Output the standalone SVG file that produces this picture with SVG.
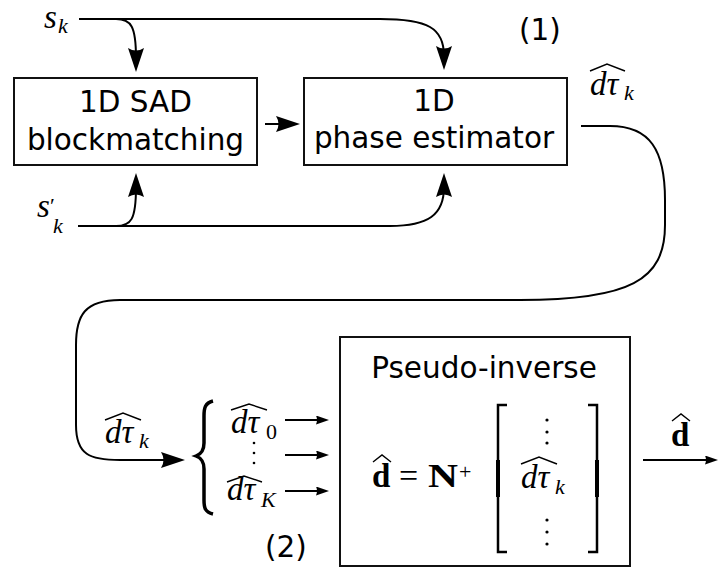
<svg xmlns="http://www.w3.org/2000/svg" width="718" height="568" viewBox="0 0 718 568">
<style>
.box{fill:#fff;stroke:#111;stroke-width:2}
.lbl{font-family:"DejaVu Sans",sans-serif;font-size:29.5px;fill:#000;text-anchor:middle}
.c{fill:none;stroke:#000;stroke-width:2}
.m{font-family:"Liberation Serif",serif;font-style:italic;font-size:33px;fill:#000}
.sub{font-family:"Liberation Serif",serif;font-style:italic;font-size:22px;fill:#000}
.up{font-family:"Liberation Serif",serif;font-size:22px;fill:#000}
.bf{font-family:"Liberation Serif",serif;font-weight:bold;font-size:33px;fill:#000}
.eq{font-family:"Liberation Serif",serif;font-size:34px;fill:#000}
.hat{fill:none;stroke:#000;stroke-width:1.4}
.dot{fill:#000}
</style>
<defs>
<marker id="big" markerUnits="userSpaceOnUse" markerWidth="26" markerHeight="18" refX="10" refY="8" orient="auto">
<path d="M0,0 L24,8 L0,16 Q5,8 0,0 z" fill="#000"/>
</marker>
<marker id="small" markerUnits="userSpaceOnUse" markerWidth="14" markerHeight="10" refX="6" refY="4.5" orient="auto">
<path d="M0,0 L13,4.5 L0,9 Q2,4.5 0,0 z" fill="#000"/>
</marker>
</defs>

<g id="connectors">
<path class="c" d="M79,19 H380 C428,19 444,28 444,56" marker-end="url(#big)"/>
<path class="c" d="M79,19 H116 C131,19 136,26 136,58" marker-end="url(#big)"/>
<path class="c" d="M78,226 H116 C131,226 136,220 136,187" marker-end="url(#big)"/>
<path class="c" d="M78,226 H390 C428,226 444,215 444,187" marker-end="url(#big)"/>
<path class="c" d="M265,124 H286" marker-end="url(#big)"/>
<path class="c" d="M581,126 H610 C650,126 665,150 665,200 V225 C665,280 630,300 520,300 H120 C85,300 76,315 76,345 V425 C76,455 90,460 120,460 H171" marker-end="url(#big)"/>
<path class="c" d="M285,420 H322" marker-end="url(#small)"/>
<path class="c" d="M285,455 H322" marker-end="url(#small)"/>
<path class="c" d="M285,491 H322" marker-end="url(#small)"/>
<path class="c" d="M643,460 H711" marker-end="url(#small)"/>
</g>

<g id="node-sad">
<rect class="box" x="14" y="78" width="243" height="87"/>
<text class="lbl" x="135.5" y="112">1D SAD</text>
<text class="lbl" x="135.5" y="150">blockmatching</text>
</g>

<g id="node-phase">
<rect class="box" x="304" y="78" width="263" height="87"/>
<text class="lbl" x="434" y="111">1D</text>
<text class="lbl" x="434" y="148">phase estimator</text>
</g>

<g id="node-pinv">
<rect class="box" x="340" y="337" width="290" height="229"/>
<text class="lbl" x="484" y="378">Pseudo-inverse</text>
<text class="bf" x="372" y="487">d</text>
<path class="hat" d="M373,462 L382,455 L391,462"/>
<text class="eq" x="399" y="487">=</text>
<text class="bf" x="428" y="487" textLength="30" lengthAdjust="spacingAndGlyphs">N</text>
<text class="up" x="459" y="479" font-size="24">+</text>
<path d="M507,405 H498 V552 H507" fill="none" stroke="#000" stroke-width="2.5"/>
<path d="M498,460 V497" stroke="#000" stroke-width="4"/>
<path d="M588,405 H597 V552 H588" fill="none" stroke="#000" stroke-width="2.5"/>
<path d="M597,460 V497" stroke="#000" stroke-width="4"/>
<circle class="dot" cx="547" cy="420" r="1.6"/>
<circle class="dot" cx="547" cy="432" r="1.6"/>
<circle class="dot" cx="547" cy="443" r="1.6"/>
<text class="m" x="521" y="488">dτ</text>
<text class="sub" x="555" y="494">k</text>
<path class="hat" d="M521,464 L539,457 L557,464"/>
<circle class="dot" cx="547" cy="520" r="1.6"/>
<circle class="dot" cx="547" cy="532" r="1.6"/>
<circle class="dot" cx="547" cy="544" r="1.6"/>
</g>

<g id="labels">
<text class="m" x="44" y="28" font-size="28">s</text>
<text class="sub" x="58" y="33" font-size="20">k</text>
<text class="m" x="37" y="217" font-size="30">s</text>
<text class="up" x="50" y="213" font-size="30">′</text>
<text class="sub" x="53" y="233">k</text>
<text class="lbl" x="540" y="40">(1)</text>
<text class="lbl" x="286" y="557">(2)</text>
<text class="m" x="590" y="95">dτ</text>
<text class="sub" x="624" y="100">k</text>
<path class="hat" d="M590,71 L607,64 L625,71"/>
<text class="m" x="105" y="443">dτ</text>
<text class="sub" x="139" y="448">k</text>
<path class="hat" d="M105,420 L123,413 L141,420"/>
<path d="M213,401 C205,403 204,408 204,416 V443 C204,451 201,454 196,456 C201,458 204,461 204,469 V500 C204,508 205,512 213,514" fill="none" stroke="#000" stroke-width="3.5"/>
<text class="m" x="231" y="433">dτ</text>
<text class="up" x="266" y="439">0</text>
<path class="hat" d="M231,410 L249,404 L267,410"/>
<circle class="dot" cx="254" cy="443" r="1.3"/>
<circle class="dot" cx="254" cy="453" r="1.3"/>
<circle class="dot" cx="254" cy="463" r="1.3"/>
<text class="m" x="227" y="500">dτ</text>
<text class="sub" x="261" y="507">K</text>
<path class="hat" d="M227,482 L244,476 L262,482"/>
<text class="bf" x="671" y="446">d</text>
<path class="hat" d="M672,421 L681,414 L690,421"/>
</g>
</svg>
